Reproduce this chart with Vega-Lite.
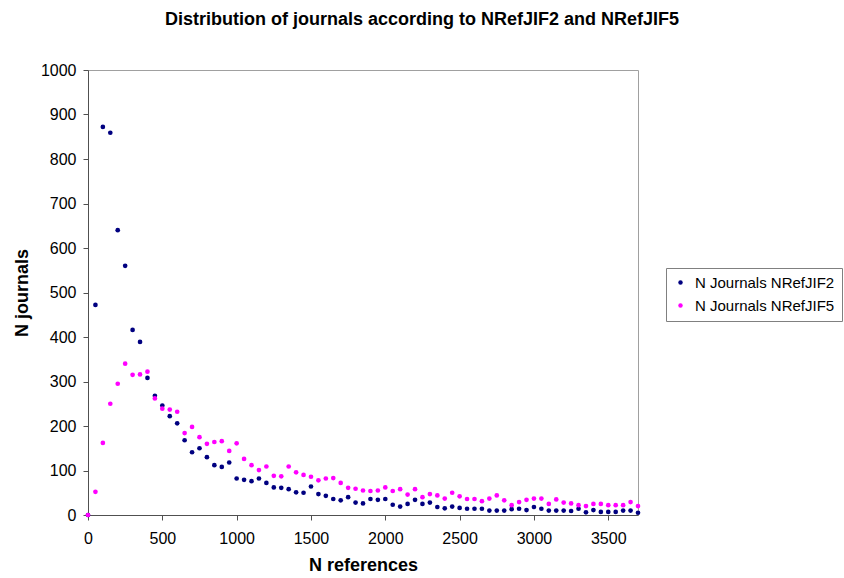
{
  "$schema": "https://vega.github.io/schema/vega-lite/v6.json",
  "width": 550,
  "height": 445,
  "autosize": {"type": "none"},
  "padding": {"left": 88, "top": 70, "right": 206, "bottom": 63},
  "background": "white",
  "title": {
    "text": "Distribution of journals according to NRefJIF2 and NRefJIF5",
    "font": "Liberation Sans",
    "fontWeight": "bold",
    "fontSize": 18,
    "anchor": "middle",
    "dx": 59,
    "offset": 33,
    "color": "black"
  },
  "config": {
    "view": {"stroke": "#a0a0a0", "strokeWidth": 1},
    "font": "Liberation Sans",
    "axis": {
      "grid": false,
      "domainColor": "#505050",
      "tickColor": "#505050",
      "tickSize": 5,
      "labelFont": "Liberation Sans",
      "labelFontSize": 16,
      "labelColor": "black",
      "titleFont": "Liberation Sans",
      "titleFontSize": 18,
      "titleFontWeight": "bold",
      "titleColor": "black",
      "labelFlush": false,
      "format": "d"
    }
  },
  "data": {
    "values": [
      {"refs": 0, "N Journals NRefJIF2": 0, "N Journals NRefJIF5": 0},
      {"refs": 50, "N Journals NRefJIF2": 472, "N Journals NRefJIF5": 52},
      {"refs": 100, "N Journals NRefJIF2": 872, "N Journals NRefJIF5": 162},
      {"refs": 150, "N Journals NRefJIF2": 859, "N Journals NRefJIF5": 250},
      {"refs": 200, "N Journals NRefJIF2": 640, "N Journals NRefJIF5": 295},
      {"refs": 250, "N Journals NRefJIF2": 560, "N Journals NRefJIF5": 340},
      {"refs": 300, "N Journals NRefJIF2": 416, "N Journals NRefJIF5": 315},
      {"refs": 350, "N Journals NRefJIF2": 389, "N Journals NRefJIF5": 316},
      {"refs": 400, "N Journals NRefJIF2": 308, "N Journals NRefJIF5": 322},
      {"refs": 450, "N Journals NRefJIF2": 268, "N Journals NRefJIF5": 262},
      {"refs": 500, "N Journals NRefJIF2": 246, "N Journals NRefJIF5": 239},
      {"refs": 550, "N Journals NRefJIF2": 222, "N Journals NRefJIF5": 237},
      {"refs": 600, "N Journals NRefJIF2": 206, "N Journals NRefJIF5": 232},
      {"refs": 650, "N Journals NRefJIF2": 168, "N Journals NRefJIF5": 184},
      {"refs": 700, "N Journals NRefJIF2": 141, "N Journals NRefJIF5": 198},
      {"refs": 750, "N Journals NRefJIF2": 150, "N Journals NRefJIF5": 175},
      {"refs": 800, "N Journals NRefJIF2": 130, "N Journals NRefJIF5": 160},
      {"refs": 850, "N Journals NRefJIF2": 112, "N Journals NRefJIF5": 164},
      {"refs": 900, "N Journals NRefJIF2": 108, "N Journals NRefJIF5": 166},
      {"refs": 950, "N Journals NRefJIF2": 118, "N Journals NRefJIF5": 144},
      {"refs": 1000, "N Journals NRefJIF2": 82, "N Journals NRefJIF5": 161},
      {"refs": 1050, "N Journals NRefJIF2": 79, "N Journals NRefJIF5": 126},
      {"refs": 1100, "N Journals NRefJIF2": 76, "N Journals NRefJIF5": 112},
      {"refs": 1150, "N Journals NRefJIF2": 82, "N Journals NRefJIF5": 101},
      {"refs": 1200, "N Journals NRefJIF2": 72, "N Journals NRefJIF5": 109},
      {"refs": 1250, "N Journals NRefJIF2": 62, "N Journals NRefJIF5": 88},
      {"refs": 1300, "N Journals NRefJIF2": 61, "N Journals NRefJIF5": 87},
      {"refs": 1350, "N Journals NRefJIF2": 58, "N Journals NRefJIF5": 109},
      {"refs": 1400, "N Journals NRefJIF2": 51, "N Journals NRefJIF5": 96},
      {"refs": 1450, "N Journals NRefJIF2": 50, "N Journals NRefJIF5": 90},
      {"refs": 1500, "N Journals NRefJIF2": 64, "N Journals NRefJIF5": 86},
      {"refs": 1550, "N Journals NRefJIF2": 47, "N Journals NRefJIF5": 78},
      {"refs": 1600, "N Journals NRefJIF2": 43, "N Journals NRefJIF5": 82},
      {"refs": 1650, "N Journals NRefJIF2": 36, "N Journals NRefJIF5": 83},
      {"refs": 1700, "N Journals NRefJIF2": 33, "N Journals NRefJIF5": 72},
      {"refs": 1750, "N Journals NRefJIF2": 40, "N Journals NRefJIF5": 61},
      {"refs": 1800, "N Journals NRefJIF2": 28, "N Journals NRefJIF5": 59},
      {"refs": 1850, "N Journals NRefJIF2": 26, "N Journals NRefJIF5": 55},
      {"refs": 1900, "N Journals NRefJIF2": 36, "N Journals NRefJIF5": 54},
      {"refs": 1950, "N Journals NRefJIF2": 34, "N Journals NRefJIF5": 55},
      {"refs": 2000, "N Journals NRefJIF2": 36, "N Journals NRefJIF5": 62},
      {"refs": 2050, "N Journals NRefJIF2": 23, "N Journals NRefJIF5": 54},
      {"refs": 2100, "N Journals NRefJIF2": 19, "N Journals NRefJIF5": 58},
      {"refs": 2150, "N Journals NRefJIF2": 25, "N Journals NRefJIF5": 46},
      {"refs": 2200, "N Journals NRefJIF2": 34, "N Journals NRefJIF5": 58},
      {"refs": 2250, "N Journals NRefJIF2": 25, "N Journals NRefJIF5": 40},
      {"refs": 2300, "N Journals NRefJIF2": 28, "N Journals NRefJIF5": 47},
      {"refs": 2350, "N Journals NRefJIF2": 18, "N Journals NRefJIF5": 44},
      {"refs": 2400, "N Journals NRefJIF2": 15, "N Journals NRefJIF5": 37},
      {"refs": 2450, "N Journals NRefJIF2": 19, "N Journals NRefJIF5": 50},
      {"refs": 2500, "N Journals NRefJIF2": 16, "N Journals NRefJIF5": 42},
      {"refs": 2550, "N Journals NRefJIF2": 14, "N Journals NRefJIF5": 36},
      {"refs": 2600, "N Journals NRefJIF2": 14, "N Journals NRefJIF5": 36},
      {"refs": 2650, "N Journals NRefJIF2": 14, "N Journals NRefJIF5": 31},
      {"refs": 2700, "N Journals NRefJIF2": 10, "N Journals NRefJIF5": 37},
      {"refs": 2750, "N Journals NRefJIF2": 10, "N Journals NRefJIF5": 44},
      {"refs": 2800, "N Journals NRefJIF2": 10, "N Journals NRefJIF5": 33},
      {"refs": 2850, "N Journals NRefJIF2": 13, "N Journals NRefJIF5": 22},
      {"refs": 2900, "N Journals NRefJIF2": 14, "N Journals NRefJIF5": 29},
      {"refs": 2950, "N Journals NRefJIF2": 11, "N Journals NRefJIF5": 34},
      {"refs": 3000, "N Journals NRefJIF2": 18, "N Journals NRefJIF5": 37},
      {"refs": 3050, "N Journals NRefJIF2": 14, "N Journals NRefJIF5": 37},
      {"refs": 3100, "N Journals NRefJIF2": 10, "N Journals NRefJIF5": 25},
      {"refs": 3150, "N Journals NRefJIF2": 10, "N Journals NRefJIF5": 35},
      {"refs": 3200, "N Journals NRefJIF2": 10, "N Journals NRefJIF5": 28},
      {"refs": 3250, "N Journals NRefJIF2": 9, "N Journals NRefJIF5": 26},
      {"refs": 3300, "N Journals NRefJIF2": 14, "N Journals NRefJIF5": 22},
      {"refs": 3350, "N Journals NRefJIF2": 6, "N Journals NRefJIF5": 20},
      {"refs": 3400, "N Journals NRefJIF2": 11, "N Journals NRefJIF5": 25},
      {"refs": 3450, "N Journals NRefJIF2": 7, "N Journals NRefJIF5": 25},
      {"refs": 3500, "N Journals NRefJIF2": 7, "N Journals NRefJIF5": 22},
      {"refs": 3550, "N Journals NRefJIF2": 7, "N Journals NRefJIF5": 22},
      {"refs": 3600, "N Journals NRefJIF2": 10, "N Journals NRefJIF5": 22},
      {"refs": 3650, "N Journals NRefJIF2": 10, "N Journals NRefJIF5": 29},
      {"refs": 3700, "N Journals NRefJIF2": 5, "N Journals NRefJIF5": 20}
    ]
  },
  "transform": [
    {"fold": ["N Journals NRefJIF2", "N Journals NRefJIF5"], "as": ["series", "journals"]}
  ],
  "mark": {"type": "point", "filled": true, "size": 22, "opacity": 1, "shape": "circle"},
  "encoding": {
    "x": {
      "field": "refs",
      "type": "quantitative",
      "scale": {"domain": [0, 3700], "nice": false, "zero": true},
      "axis": {
        "values": [0, 500, 1000, 1500, 2000, 2500, 3000, 3500],
        "format": "d",
        "title": "N references",
        "labelPadding": 10,
        "titlePadding": 10
      }
    },
    "y": {
      "field": "journals",
      "type": "quantitative",
      "scale": {"domain": [0, 1000], "nice": false},
      "axis": {
        "values": [0, 100, 200, 300, 400, 500, 600, 700, 800, 900, 1000],
        "format": "d",
        "title": "N journals",
        "labelPadding": 7,
        "titlePadding": 9
      }
    },
    "color": {
      "field": "series",
      "type": "nominal",
      "scale": {
        "domain": ["N Journals NRefJIF2", "N Journals NRefJIF5"],
        "range": ["#000080", "#ff00ff"]
      },
      "legend": {
        "title": null,
        "orient": "none",
        "legendX": 578,
        "legendY": 198,
        "strokeColor": "#808080",
        "fillColor": "white",
        "padding": 7,
        "labelFont": "Liberation Sans",
        "labelFontSize": 15,
        "labelColor": "black",
        "labelOffset": 7,
        "symbolType": "circle",
        "symbolSize": 20,
        "rowPadding": 7,
        "cornerRadius": 0
      }
    }
  }
}
